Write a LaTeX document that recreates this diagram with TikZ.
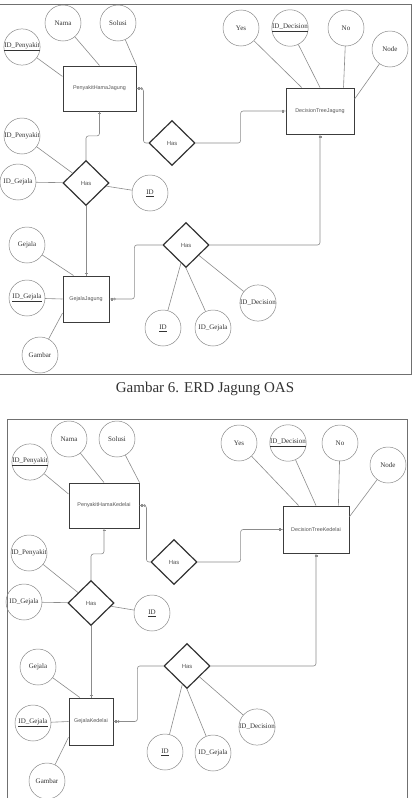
\documentclass[tikz,border=0pt]{standalone}
\usepackage{fontspec}
\setmainfont{Liberation Serif}
\newfontfamily\sansf{Liberation Sans}
\usetikzlibrary{shapes.geometric}
\definecolor{conn}{HTML}{8C8C8C}
\definecolor{ent}{HTML}{3C3C3C}
\definecolor{rel}{HTML}{333333}
\definecolor{attr}{HTML}{8A8A8A}
\definecolor{txt}{HTML}{333333}
\definecolor{stxt}{HTML}{555555}
\definecolor{frm}{HTML}{707070}
\tikzset{
  attrib/.style={circle, draw=attr, line width=0.5pt, minimum size=36pt, inner sep=0pt,
    text=txt, font=\fontsize{7}{8}\selectfont},
  entity/.style={rectangle, draw=ent, line width=1pt, inner sep=0pt,
    text=stxt, font=\sansf\fontsize{5.4}{6}\selectfont},
  relation/.style={diamond, draw=rel, line width=1.2pt, inner sep=0pt, aspect=1,
    minimum width=46pt, minimum height=45pt, text=stxt, font=\sansf\fontsize{5.9}{6.5}\selectfont},
  conline/.style={draw=conn, line width=0.6pt},
  route/.style={draw=conn, line width=0.6pt, rounded corners=2.5pt},
  mk/.style={draw=conn, line width=0.5pt},
  frame/.style={draw=frm, line width=0.9pt},
}
\begin{document}
\begin{tikzpicture}[x=1pt,y=-1pt]
\useasboundingbox (0,0) rectangle (414,798);
\fill[white] (0,0) rectangle (414,798);

% ---------------- frames ----------------
\draw[frame] (0,4) -- (411,4) -- (411,374) -- (0,374);
\draw[frame] (7,798) -- (7,419) -- (407,419) -- (407,798);

\node[font=\fontsize{15}{17}\selectfont, text=txt] (cap) at (205,389) {Gambar 6. ERD Jagung OAS};

% ================= TOP (Jagung) =================
\node[entity, minimum width=73pt, minimum height=45pt] (PJ) at (99.5,88.5) {PenyakitHamaJagung};
\node[entity, minimum width=68pt, minimum height=46pt] (DJ) at (320,111) {DecisionTreeJagung};
\node[entity, minimum width=46pt, minimum height=46pt] (GJ) at (86,299) {GejalaJagung};

\node[relation] (HA1) at (86,183) {Has};
\node[relation] (HA2) at (172,143) {Has};
\node[relation] (HA3) at (186,245) {Has};

\node[attrib] (aNama) at (63,23) {Nama};
\node[attrib] (aSolusi) at (118,23) {Solusi};
\node[attrib] (aIDP) at (22,47) {\underline{ID\_Penyakit}};
\node[attrib] (aYes) at (241,28) {Yes};
\node[attrib] (aIDD) at (290,28) {\underline{ID\_Decision}};
\node[attrib] (aNo) at (346,28) {No};
\node[attrib] (aNode) at (390,49) {Node};
\node[attrib] (aIDP2) at (22,136) {ID\_Penyakit};
\node[attrib] (aIDG2) at (18,182) {ID\_Gejala};
\node[attrib] (aID1) at (150,193) {\underline{ID}};
\node[attrib] (aGej) at (27,245) {Gejala};
\node[attrib] (aIDG) at (27,298) {\underline{ID\_Gejala}};
\node[attrib] (aGam) at (40,355) {Gambar};
\node[attrib] (aID3) at (163,328) {\underline{ID}};
\node[attrib] (aIDG3) at (213,328) {ID\_Gejala};
\node[attrib] (aIDD3) at (258,303) {ID\_Decision};

\draw[conline] (aNama) -- (PJ.north);
\draw[conline] (aSolusi) -- (PJ.north east);
\draw[conline] (aIDP) -- (PJ.162);
\draw[conline] (aYes) -- (DJ.128);
\draw[conline] (aIDD) -- (DJ.north);
\draw[conline] (aNo) -- (DJ.45);
\draw[conline] (aNode) -- (DJ.19);
\draw[conline] (aIDP2) -- (HA1);
\draw[conline] (aIDG2) -- (HA1);
\draw[conline] (aID1) -- (HA1);
\draw[conline] (aGej) -- (GJ.118);
\draw[conline] (aIDG) -- (GJ.west);
\draw[conline] (aGam) -- (GJ.211);
\draw[conline] (HA3) -- (aID3);
\draw[conline] (HA3.south) -- (aIDG3);
\draw[conline] (HA3) -- (aIDD3);

\draw[route] (PJ.east) -- ++(7,0) |- (HA2.west);
\draw[route] (HA2.east) -- ++(45,0) |- (DJ.west);
\draw[route] (DJ.south) |- (HA3.east);
\draw[route] (HA3.west) -- ++(-28,0) |- (GJ.east);
\draw[route] (HA1.south) -- (GJ.north);
\draw[route] (HA1.north) -- ++(0,-24) -| (PJ.south);

% small cardinality marks
\draw[mk] ([xshift=2pt,yshift=1.5pt]PJ.east) -- ++(0,3);
\draw[mk] ([xshift=3pt,yshift=1.5pt]PJ.east) -- ++(0,3);
\draw[mk] ([xshift=5pt]PJ.east) circle (1.1pt);
\draw[mk] ([xshift=-1.5pt,yshift=-2pt]PJ.south) -- ++(3,0);
\draw[mk] ([xshift=-2pt,yshift=1.5pt]DJ.west) -- ++(0,3);
\draw[mk] ([xshift=-3.2pt,yshift=1.5pt]DJ.west) -- ++(0,3);
\draw[mk] ([xshift=-1.5pt,yshift=-2pt]DJ.south) -- ++(3,0);
\draw[mk] ([xshift=-1.5pt,yshift=-3.2pt]DJ.south) -- ++(3,0);
\draw[mk] ([xshift=-1.5pt,yshift=2pt]GJ.north) -- ++(3,0);
\draw[mk] ([xshift=2pt,yshift=1.5pt]GJ.east) -- ++(0,3);
\draw[mk] ([xshift=3pt,yshift=1.5pt]GJ.east) -- ++(0,3);
\draw[mk] ([xshift=5pt]GJ.east) circle (1.1pt);

% ================= BOTTOM (Kedelai) =================
\node[entity, minimum width=70pt, minimum height=45pt] (PK) at (104,505.5) {PenyakitHamaKedelai};
\node[entity, minimum width=66pt, minimum height=47pt] (DK) at (316,529.5) {DecisionTreeKedelai};
\node[entity, minimum width=44pt, minimum height=47pt] (GK) at (91,721.5) {GejalaKedelai};

\node[relation] (HB1) at (91,603) {Has};
\node[relation] (HB2) at (174,562) {Has};
\node[relation] (HB3) at (187,666) {Has};

\node[attrib] (bNama) at (69,439) {Nama};
\node[attrib] (bSolusi) at (117,439) {Solusi};
\node[attrib] (bIDP) at (30,462) {\underline{ID\_Penyakit}};
\node[attrib] (bYes) at (239,443) {Yes};
\node[attrib] (bIDD) at (288,443) {\underline{ID\_Decision}};
\node[attrib] (bNo) at (340,443) {No};
\node[attrib] (bNode) at (388,465) {Node};
\node[attrib] (bIDP2) at (29,553) {ID\_Penyakit};
\node[attrib] (bIDG2) at (24,602) {ID\_Gejala};
\node[attrib] (bID1) at (152,613) {\underline{ID}};
\node[attrib] (bGej) at (38,667) {Gejala};
\node[attrib] (bIDG) at (33,723) {\underline{ID\_Gejala}};
\node[attrib] (bGam) at (47,781) {Gambar};
\node[attrib] (bID3) at (165,752) {\underline{ID}};
\node[attrib] (bIDG3) at (213,753) {ID\_Gejala};
\node[attrib] (bIDD3) at (257,727) {ID\_Decision};

\draw[conline] (bNama) -- (PK.north);
\draw[conline] (bSolusi) -- (PK.north east);
\draw[conline] (bIDP) -- (PK.162);
\draw[conline] (bYes) -- (DK.126);
\draw[conline] (bIDD) -- (DK.north);
\draw[conline] (bNo) -- (DK.47);
\draw[conline] (bNode) -- (DK.21);
\draw[conline] (bIDP2) -- (HB1);
\draw[conline] (bIDG2) -- (HB1);
\draw[conline] (bID1) -- (HB1);
\draw[conline] (bGej) -- (GK.115);
\draw[conline] (bIDG) -- (GK.west);
\draw[conline] (bGam) -- (GK.215);
\draw[conline] (HB3) -- (bID3);
\draw[conline] (HB3.south) -- (bIDG3);
\draw[conline] (HB3) -- (bIDD3);

\draw[route] (PK.east) -- ++(7,0) |- (HB2.west);
\draw[route] (HB2.east) -- ++(43,0) |- (DK.west);
\draw[route] (DK.south) |- (HB3.east);
\draw[route] (HB3.west) -- ++(-26,0) |- (GK.east);
\draw[route] (HB1.south) -- (GK.north);
\draw[route] (HB1.north) -- ++(0,-26) -| (PK.south);

\draw[mk] ([xshift=2pt,yshift=1.5pt]PK.east) -- ++(0,3);
\draw[mk] ([xshift=3pt,yshift=1.5pt]PK.east) -- ++(0,3);
\draw[mk] ([xshift=5pt]PK.east) circle (1.1pt);
\draw[mk] ([xshift=-1.5pt,yshift=-2pt]PK.south) -- ++(3,0);
\draw[mk] ([xshift=-2pt,yshift=1.5pt]DK.west) -- ++(0,3);
\draw[mk] ([xshift=-3.2pt,yshift=1.5pt]DK.west) -- ++(0,3);
\draw[mk] ([xshift=-1.5pt,yshift=-2pt]DK.south) -- ++(3,0);
\draw[mk] ([xshift=-1.5pt,yshift=-3.2pt]DK.south) -- ++(3,0);
\draw[mk] ([xshift=-1.5pt,yshift=2pt]GK.north) -- ++(3,0);
\draw[mk] ([xshift=2pt,yshift=1.5pt]GK.east) -- ++(0,3);
\draw[mk] ([xshift=3pt,yshift=1.5pt]GK.east) -- ++(0,3);
\draw[mk] ([xshift=5pt]GK.east) circle (1.1pt);
\end{tikzpicture}
\end{document}
